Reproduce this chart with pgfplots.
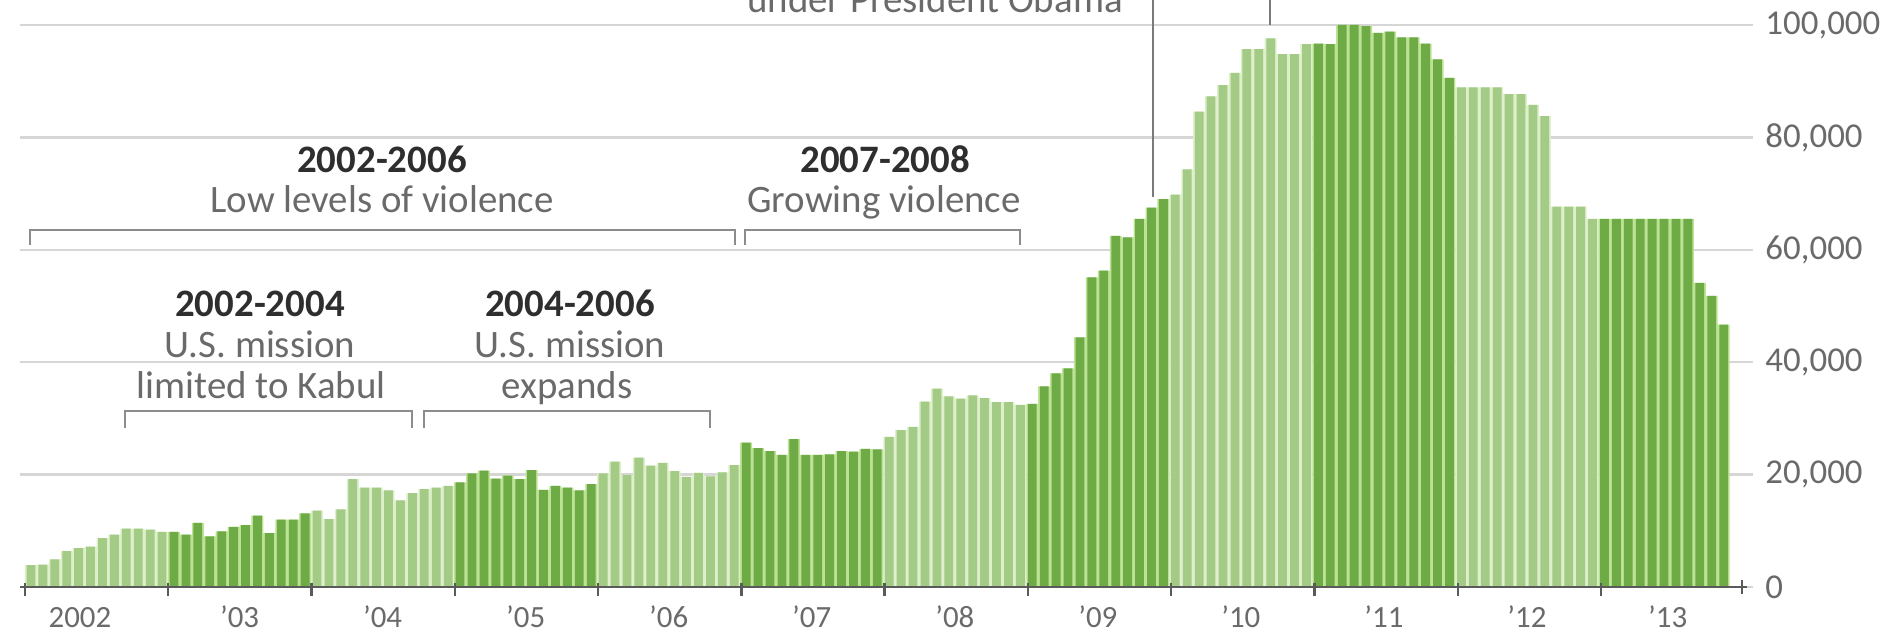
\documentclass[border=0pt]{standalone}
\usepackage{fontspec}
\setmainfont{Carlito}
\usepackage{pgfplots}
\pgfplotsset{compat=1.18}
\usepackage{pgfplotstable}

\definecolor{darkbar}{HTML}{6EAB46}
\definecolor{lightbar}{HTML}{A3CB85}
\definecolor{darkgap}{HTML}{BCE294}
\definecolor{lightgap}{HTML}{DDEFCB}
\definecolor{gridc}{HTML}{D6D6D6}
\definecolor{txt}{HTML}{6A6A6A}
\definecolor{hdr}{HTML}{2E2E2E}
\definecolor{brk}{HTML}{8C8C8C}
\definecolor{basec}{HTML}{5A5A5A}
\definecolor{leadc}{HTML}{7A7A7A}

\newcommand\annfont{\fontsize{19.5}{23}\selectfont}
\newcommand\ylabfont{\fontsize{17.5}{21}\selectfont}
\newcommand\xlabfont{\fontsize{15.5}{18}\selectfont}

% months indexed from 0 = Jan 2002; values in thousands of troops
\pgfplotstableread{
x y
0 3.9
1 4.0
2 4.9
3 6.4
4 6.9
5 7.2
6 8.7
7 9.3
8 10.4
9 10.4
10 10.2
11 9.8
24 13.6
25 12.1
26 13.8
27 19.2
28 17.7
29 17.7
30 17.2
31 15.4
32 16.7
33 17.4
34 17.7
35 18.0
48 20.2
49 22.3
50 19.9
51 23.0
52 21.6
53 22.1
54 20.6
55 19.6
56 20.3
57 19.7
58 20.4
59 21.7
72 26.7
73 27.9
74 28.5
75 33.0
76 35.3
77 33.9
78 33.5
79 34.1
80 33.6
81 32.9
82 32.9
83 32.4
96 69.8
97 74.3
98 84.6
99 87.3
100 89.3
101 91.5
102 95.7
103 95.7
104 97.6
105 94.8
106 94.8
107 96.6
120 88.9
121 88.9
122 88.9
123 88.9
124 87.7
125 87.7
126 85.8
127 83.8
128 67.7
129 67.7
130 67.7
131 65.5
}\lightyears

\pgfplotstableread{
x y
12 9.8
13 9.3
14 11.4
15 9.0
16 9.9
17 10.7
18 11.0
19 12.7
20 9.6
21 12.0
22 12.0
23 13.1
36 18.6
37 20.2
38 20.7
39 19.3
40 19.8
41 19.2
42 20.8
43 17.3
44 18.0
45 17.7
46 17.2
47 18.3
60 25.7
61 24.7
62 24.2
63 23.5
64 26.3
65 23.5
66 23.5
67 23.6
68 24.2
69 24.1
70 24.6
71 24.5
84 32.6
85 35.7
86 38.0
87 38.9
88 44.4
89 55.1
90 56.3
91 62.5
92 62.2
93 65.5
94 67.5
95 69.0
108 96.7
109 96.6
110 100.0
111 100.0
112 99.8
113 98.6
114 98.8
115 97.8
116 97.8
117 96.7
118 93.9
119 90.6
132 65.5
133 65.5
134 65.5
135 65.5
136 65.5
137 65.5
138 65.5
139 65.5
140 54.1
141 51.8
142 46.7
}\darkyears

\begin{document}
\begin{tikzpicture}
\begin{axis}[
  x=5.96bp, y=2.81bp,
  xmin=-0.92, xmax=144.47, ymin=0, ymax=100,
  clip=false,
  axis line style={draw=none},
  major tick length=0pt,
  ytick={0,20,40,60,80,100},
  yticklabels={0,{20,000},{40,000},{60,000},{80,000},{100,000}},
  yticklabel pos=right,
  yticklabel style={anchor=west, inner sep=0pt, xshift=6bp, font=\ylabfont, text=txt},
  ymajorgrids,
  grid style={gridc, line width=1.2bp},
  xtick={4.11,17.5,29.5,41.5,53.5,65.5,77.5,89.5,101.5,113.5,125.5,137.3},
  xticklabels={2002,'03,'04,'05,'06,'07,'08,'09,'10,'11,'12,'13},
  xticklabel style={anchor=base, inner sep=0pt, yshift=-20bp, font=\xlabfont, text=txt},
]
% bars: pale full-width underlay, then the coloured bar
\addplot[ybar, bar width=5.96bp, bar shift=0pt, fill=lightgap, draw=none] table[x=x,y=y]{\lightyears};
\addplot[ybar, bar width=4.4bp, bar shift=0pt, fill=lightbar, draw=none] table[x=x,y=y]{\lightyears};
\addplot[ybar, bar width=5.96bp, bar shift=0pt, fill=darkgap, draw=none] table[x=x,y=y]{\darkyears};
\addplot[ybar, bar width=4.4bp, bar shift=0pt, fill=darkbar, draw=none] table[x=x,y=y]{\darkyears};

% baseline and year ticks
\draw[basec, line width=1.2bp] (axis cs:-0.92,0) -- (axis cs:143.96,0);
\pgfplotsinvokeforeach{0,...,11}{
  \draw[basec, line width=1.2bp] (axis cs:{12.02*#1-0.5},0.71) -- (axis cs:{12.02*#1-0.5},-1.6);
}
\draw[basec, line width=1.2bp] (axis cs:143.55,1.25) -- (axis cs:143.55,-1.25);

% leader lines from annotations above
\draw[leadc, line width=1bp] (axis cs:94.13,106) -- (axis cs:94.13,69.4);
\draw[leadc, line width=1bp] (axis cs:103.95,106) -- (axis cs:103.95,100);
\node[anchor=base east, font=\annfont, text=txt, inner sep=0pt] at (axis cs:91.62,102.3) {under President Obama};

% 2002-2006
\node[anchor=base, font=\annfont\bfseries, text=hdr, inner sep=0pt] at (axis cs:29.45,73.84) {2002-2006};
\node[anchor=base, font=\annfont, text=txt, inner sep=0pt] at (axis cs:29.45,66.55) {Low levels of violence};
\draw[brk, line width=1.2bp] (axis cs:-0.08,60.85) -- (axis cs:-0.08,63.52) -- (axis cs:59.06,63.52) -- (axis cs:59.06,60.85);

% 2007-2008
\node[anchor=base, font=\annfont\bfseries, text=hdr, inner sep=0pt] at (axis cs:71.65,73.84) {2007-2008};
\node[anchor=base, font=\annfont, text=txt, inner sep=0pt] at (axis cs:71.57,66.55) {Growing violence};
\draw[brk, line width=1.2bp] (axis cs:59.9,60.85) -- (axis cs:59.9,63.52) -- (axis cs:82.97,63.52) -- (axis cs:82.97,60.85);

% 2002-2004
\node[anchor=base, font=\annfont\bfseries, text=hdr, inner sep=0pt] at (axis cs:19.21,48.22) {2002-2004};
\node[anchor=base, font=\annfont, text=txt, inner sep=0pt] at (axis cs:19.21,40.75) {U.S. mission};
\node[anchor=base, font=\annfont, text=txt, inner sep=0pt] at (axis cs:19.3,33.63) {limited to Kabul};
\draw[brk, line width=1.2bp] (axis cs:7.89,28.29) -- (axis cs:7.89,31.32) -- (axis cs:31.97,31.32) -- (axis cs:31.97,28.29);

% 2004-2006
\node[anchor=base, font=\annfont\bfseries, text=hdr, inner sep=0pt] at (axis cs:45.22,48.22) {2004-2006};
\node[anchor=base, font=\annfont, text=txt, inner sep=0pt] at (axis cs:45.22,40.75) {U.S. mission};
\node[anchor=base, font=\annfont, text=txt, inner sep=0pt] at (axis cs:44.97,33.63) {expands};
\draw[brk, line width=1.2bp] (axis cs:32.97,28.29) -- (axis cs:32.97,31.32) -- (axis cs:56.97,31.32) -- (axis cs:56.97,28.29);

\coordinate (bbA) at (axis cs:-2.597,-8.185);
\coordinate (bbB) at (axis cs:156.04,104.45);
\end{axis}
\pgfresetboundingbox
\useasboundingbox (bbA) rectangle (bbB);
\end{tikzpicture}
\end{document}
